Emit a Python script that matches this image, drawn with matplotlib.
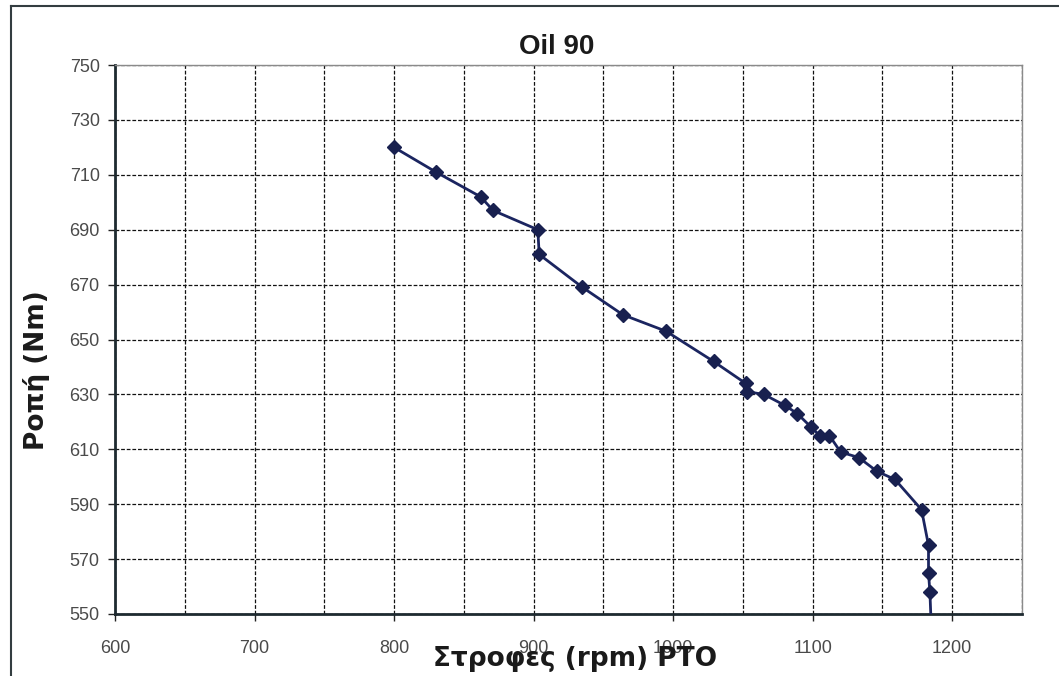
import matplotlib
matplotlib.use("Agg")
import matplotlib.pyplot as plt
from matplotlib.lines import Line2D
import numpy as np

plt.rcParams['font.family'] = ['Liberation Sans', 'DejaVu Sans']

rpm = [800, 830, 862, 871, 903, 904, 935, 964, 995, 1029, 1052, 1053, 1065, 1080, 1089,
       1099, 1105, 1112, 1120, 1133, 1146, 1159, 1178, 1183, 1183, 1184, 1185]
torque = [720, 711, 702, 697, 690, 681, 669, 659, 653, 642, 634, 631, 630, 626, 623,
          618, 615, 615, 609, 607, 602, 599, 588, 575, 565, 558, 545]

title = "Oil 90"
xlabel = "Στροφες (rpm) PTO"
ylabel = "Ροπή (Nm)"
xticks = [600, 700, 800, 900, 1000, 1100, 1200]
yticks = [550, 570, 590, 610, 630, 650, 670, 690, 710, 730, 750]

fig = plt.figure(figsize=(10.59, 6.76), dpi=100)
W, H = 1059, 676
ax = fig.add_axes([115 / W, 1 - 614 / H, (1022 - 115) / W, (614 - 65) / H])

navy = '#1b2560'
ax.plot(rpm, torque, color=navy, lw=2, marker='D', markersize=7.5,
        markerfacecolor='#18204f', markeredgecolor='#18204f', clip_on=True, zorder=3)

ax.set_xlim(600, 1250)
ax.set_ylim(550, 750)
ax.set_xticks(xticks)
ax.set_xticks(np.arange(600, 1251, 50), minor=True)
ax.set_yticks(yticks)
ax.tick_params(axis='both', which='major', labelsize=13, labelcolor='#4a4a4a',
               length=5, width=1, color='#222222', direction='out')
ax.tick_params(axis='x', which='minor', length=0)
ax.tick_params(axis='x', which='major', pad=14)
ax.tick_params(axis='y', which='major', pad=6)

ax.grid(True, which='both', axis='x', color='#111111', lw=0.9, ls=(0, (3, 1.5)))
ax.grid(True, which='major', axis='y', color='#111111', lw=0.9, ls=(0, (3, 1.5)))
ax.set_axisbelow(True)

for s in ['left', 'bottom']:
    ax.spines[s].set_color('#1e2a30')
    ax.spines[s].set_linewidth(2)
for s in ['top', 'right']:
    ax.spines[s].set_color('#8a8a8a')
    ax.spines[s].set_linewidth(1)

fig.text(557 / W, 1 - 47 / H, title, ha='center', va='center', fontsize=20,
         fontweight='bold', color='#1a1a1a')
fig.text(575 / W, 1 - 666 / H, xlabel, ha='center', va='baseline', fontsize=19,
         fontweight='bold', color='#1a1a1a', family='DejaVu Sans', zorder=5)
fig.text(37 / W, 1 - 370 / H, ylabel, ha='center', va='center', rotation=90,
         fontsize=19, fontweight='bold', color='#1a1a1a', family='DejaVu Sans')

# outer frame
fig.add_artist(Line2D([11 / W, 1.0], [1 - 6 / H, 1 - 6 / H], color='#333d40', lw=1.5,
                      transform=fig.transFigure))
fig.add_artist(Line2D([11 / W, 11 / W], [0, 1 - 6 / H], color='#333d40', lw=1.5,
                      transform=fig.transFigure))

fig.savefig('out.png', dpi=100, facecolor='white')
